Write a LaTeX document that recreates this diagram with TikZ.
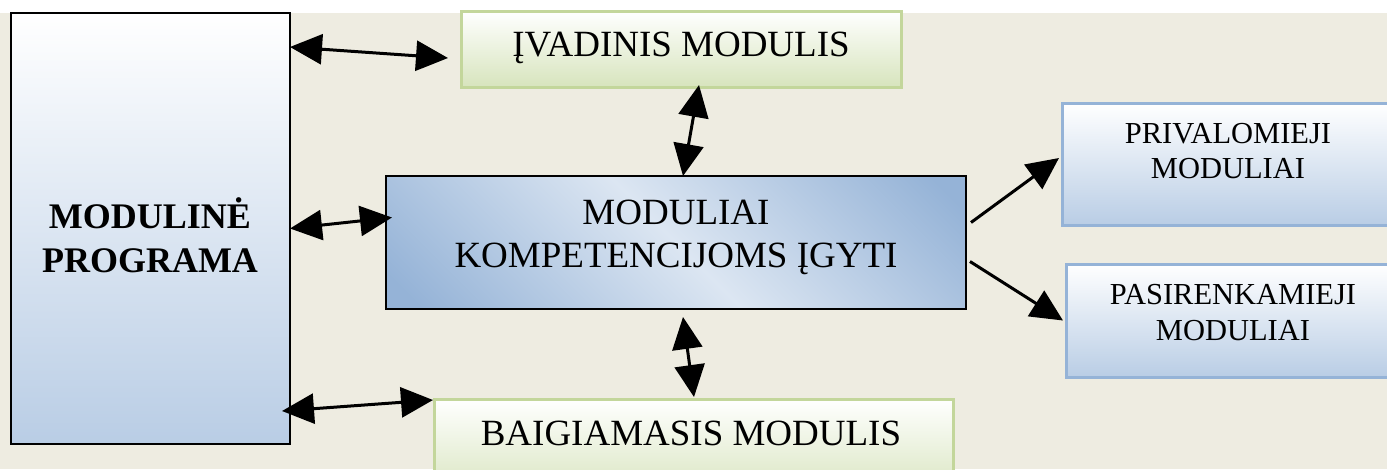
\documentclass[tikz,border=0pt]{standalone}
\usepackage{fontspec}
\setmainfont{Liberation Serif}
\usetikzlibrary{arrows.meta,calc}
\definecolor{bgc}{HTML}{EEECE1}
\definecolor{bluedk}{HTML}{95B3D7}
\definecolor{bluelt}{HTML}{DCE6F2}
\definecolor{bluemd}{HTML}{B9CDE5}
\definecolor{greenbd}{HTML}{C3D69B}
\definecolor{greenlt}{HTML}{D7E4BD}
\pgfdeclarehorizontalshading{mainsh}{100bp}{color(0bp)=(bluedk); color(18bp)=(bluedk); color(50bp)=(bluelt); color(82bp)=(bluedk); color(100bp)=(bluedk)}
\begin{document}
\begin{tikzpicture}[x=1pt,y=-1pt,
  box/.style={rectangle, inner sep=0pt, outer sep=0pt},
  progbox/.style={box, draw=black, line width=2pt, top color=white, bottom color=bluemd},
  mainbox/.style={box, draw=black, line width=2pt, shading=mainsh, shading angle=45},
  greenbox/.style={box, draw=greenbd, line width=3pt, top color=white, bottom color=greenlt},
  bluebox/.style={box, draw=bluedk, line width=3pt, top color=white, bottom color=bluemd},
  lbl/.style={inner sep=0pt, anchor=base, font=\fontsize{37}{40}\selectfont},
  lblb/.style={inner sep=0pt, anchor=base, font=\fontsize{36}{40}\selectfont\bfseries},
  lbls/.style={inner sep=0pt, anchor=base, font=\fontsize{30.5}{34}\selectfont},
  tipa/.tip={Triangle[length=32pt,width=30pt]},
  dbl/.style={line width=3pt, tipa-tipa},
  sgl/.style={line width=3pt, -tipa}
]
\useasboundingbox (0,0) rectangle (1387,469);
\clip (0,0) rectangle (1387,469);
\fill[white] (0,0) rectangle (1387,469);
\fill[bgc] (0,13) rectangle (1387,469);

% boxes
\node[progbox, minimum width=279pt, minimum height=431pt] (prog) at (150.5,228.5) {};
\node[greenbox, minimum width=440pt, minimum height=76pt] (ivad) at (681,49) {};
\node[mainbox, minimum width=580pt, minimum height=133pt] (main) at (676,242.5) {};
\node[bluebox, minimum width=340pt, minimum height=122pt] (priv) at (1232,164) {};
\node[bluebox, minimum width=336pt, minimum height=113pt] (pasi) at (1234,320.5) {};
\node[greenbox, minimum width=519pt, minimum height=100pt] (baig) at (693.5,449) {};

% texts
\node[lblb] (progT1) at (150,228) {MODULINĖ};
\node[lblb] (progT2) at (150,272) {PROGRAMA};
\node[lbl] (ivadT) at (681,56) {ĮVADINIS MODULIS};
\node[lbl] (mainT1) at (676,224) {MODULIAI};
\node[lbl] (mainT2) at (676,267) {KOMPETENCIJOMS ĮGYTI};
\node[lbls] (privT1) at (1228,143) {PRIVALOMIEJI};
\node[lbls] (privT2) at (1228,178) {MODULIAI};
\node[lbls] (pasiT1) at (1233,304) {PASIRENKAMIEJI};
\node[lbls] (pasiT2) at (1233,340) {MODULIAI};
\node[lbl] (baigT) at (691,445) {BAIGIAMASIS MODULIS};

% connectors
\draw[dbl] ($(prog.north east)+(0,34)$) -- ($(ivad.west)+(-13,9)$);
\draw[dbl] ($(prog.east)+(0,0)$) -- ($(main.west)+(6,-25)$);
\draw[dbl] ($(prog.south east)+(-8,-33)$) -- ($(baig.north west)+(-1,1)$);
\draw[dbl] ($(ivad.south)+(18,-2)$) -- ($(main.north)+(7,0)$);
\draw[dbl] ($(main.south)+(7,8)$) -- ($(baig.north)+(0.5,-2)$);
\draw[sgl] ($(main.east)+(5,-20)$) -- ($(priv.west)+(-3,-6)$);
\draw[sgl] ($(main.east)+(4,19)$) -- ($(pasi.west)+(-3,0)$);
\end{tikzpicture}
\end{document}
